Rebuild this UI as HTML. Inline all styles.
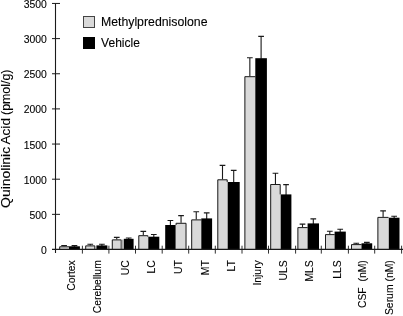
<!DOCTYPE html>
<html><head><meta charset="utf-8"><title>Quinolinic Acid</title>
<style>
html,body{margin:0;padding:0;background:#fff;}
body{width:403px;height:316px;overflow:hidden;}
svg{display:block;font-family:"Liberation Sans",sans-serif;}
text{stroke:#000;stroke-width:0.1px;}
</style></head><body>
<svg width="403" height="316" viewBox="0 0 403 316">
<rect width="403" height="316" fill="#fff"/>

<path d="M64.10 246.80V245.60M61.25 245.60H66.95" stroke="#1a1a1a" stroke-width="1.1" fill="none"/>
<path d="M74.45 246.80V245.60M71.60 245.60H77.30" stroke="#1a1a1a" stroke-width="1.1" fill="none"/>
<rect x="59.20" y="246.30" width="9.80" height="3.20" fill="#d9d9d9"/>
<path d="M59.70 249.5V246.80H69.00" fill="none" stroke="#1c1c1c" stroke-width="1"/>
<rect x="69.00" y="246.30" width="10.90" height="3.20" fill="#000"/>
<path d="M90.25 245.90V244.30M87.40 244.30H93.10" stroke="#1a1a1a" stroke-width="1.1" fill="none"/>
<path d="M101.90 245.90V244.30M99.05 244.30H104.75" stroke="#1a1a1a" stroke-width="1.1" fill="none"/>
<rect x="85.20" y="245.40" width="10.10" height="4.10" fill="#d9d9d9"/>
<path d="M85.70 249.5V245.90H94.80V249.5" fill="none" stroke="#1c1c1c" stroke-width="1"/>
<rect x="96.40" y="245.40" width="11.00" height="4.10" fill="#000"/>
<path d="M116.75 239.90V237.40M113.90 237.40H119.60" stroke="#1a1a1a" stroke-width="1.1" fill="none"/>
<path d="M128.70 239.30V238.00M125.85 238.00H131.55" stroke="#1a1a1a" stroke-width="1.1" fill="none"/>
<rect x="111.80" y="239.40" width="9.90" height="10.10" fill="#d9d9d9"/>
<path d="M112.30 249.5V239.90H121.20V249.5" fill="none" stroke="#1c1c1c" stroke-width="1"/>
<rect x="123.80" y="238.80" width="9.80" height="10.70" fill="#000"/>
<path d="M143.30 235.70V231.40M140.45 231.40H146.15" stroke="#1a1a1a" stroke-width="1.1" fill="none"/>
<path d="M153.80 237.20V234.50M150.95 234.50H156.65" stroke="#1a1a1a" stroke-width="1.1" fill="none"/>
<rect x="138.30" y="235.20" width="10.00" height="14.30" fill="#d9d9d9"/>
<path d="M138.80 249.5V235.70H147.80V236.70" fill="none" stroke="#1c1c1c" stroke-width="1"/>
<rect x="148.30" y="236.70" width="11.00" height="12.80" fill="#000"/>
<path d="M170.40 225.50V220.50M167.55 220.50H173.25" stroke="#1a1a1a" stroke-width="1.1" fill="none"/>
<path d="M181.05 223.30V215.60M178.20 215.60H183.90" stroke="#1a1a1a" stroke-width="1.1" fill="none"/>
<rect x="175.60" y="222.80" width="10.90" height="26.70" fill="#d9d9d9"/>
<path d="M176.10 225.00V223.30H186.00V249.5" fill="none" stroke="#1c1c1c" stroke-width="1"/>
<rect x="165.20" y="225.00" width="10.40" height="24.50" fill="#000"/>
<path d="M196.25 219.90V211.80M193.40 211.80H199.10" stroke="#1a1a1a" stroke-width="1.1" fill="none"/>
<path d="M206.70 218.90V212.90M203.85 212.90H209.55" stroke="#1a1a1a" stroke-width="1.1" fill="none"/>
<rect x="191.20" y="219.40" width="10.10" height="30.10" fill="#d9d9d9"/>
<path d="M191.70 249.5V219.90H201.30" fill="none" stroke="#1c1c1c" stroke-width="1"/>
<rect x="201.30" y="218.40" width="10.80" height="31.10" fill="#000"/>
<path d="M222.50 179.80V165.40M219.65 165.40H225.35" stroke="#1a1a1a" stroke-width="1.1" fill="none"/>
<path d="M233.70 182.50V170.40M230.85 170.40H236.55" stroke="#1a1a1a" stroke-width="1.1" fill="none"/>
<rect x="217.30" y="179.30" width="10.40" height="70.20" fill="#d9d9d9"/>
<path d="M217.80 249.5V179.80H227.20V182.00" fill="none" stroke="#1c1c1c" stroke-width="1"/>
<rect x="227.70" y="182.00" width="12.00" height="67.50" fill="#000"/>
<path d="M249.85 76.70V57.80M247.00 57.80H252.70" stroke="#1a1a1a" stroke-width="1.1" fill="none"/>
<path d="M261.10 58.70V36.40M258.25 36.40H263.95" stroke="#1a1a1a" stroke-width="1.1" fill="none"/>
<rect x="244.40" y="76.20" width="10.90" height="173.30" fill="#d9d9d9"/>
<path d="M244.90 249.5V76.70H255.30" fill="none" stroke="#1c1c1c" stroke-width="1"/>
<rect x="255.30" y="58.20" width="11.60" height="191.30" fill="#000"/>
<path d="M275.45 184.50V173.20M272.60 173.20H278.30" stroke="#1a1a1a" stroke-width="1.1" fill="none"/>
<path d="M286.05 194.90V184.60M283.20 184.60H288.90" stroke="#1a1a1a" stroke-width="1.1" fill="none"/>
<rect x="270.20" y="184.00" width="10.50" height="65.50" fill="#d9d9d9"/>
<path d="M270.70 249.5V184.50H280.20V194.40" fill="none" stroke="#1c1c1c" stroke-width="1"/>
<rect x="280.70" y="194.40" width="10.70" height="55.10" fill="#000"/>
<path d="M302.50 227.60V224.10M299.65 224.10H305.35" stroke="#1a1a1a" stroke-width="1.1" fill="none"/>
<path d="M313.30 223.90V218.90M310.45 218.90H316.15" stroke="#1a1a1a" stroke-width="1.1" fill="none"/>
<rect x="297.40" y="227.10" width="10.20" height="22.40" fill="#d9d9d9"/>
<path d="M297.90 249.5V227.60H307.60" fill="none" stroke="#1c1c1c" stroke-width="1"/>
<rect x="307.60" y="223.40" width="11.40" height="26.10" fill="#000"/>
<path d="M329.80 234.60V231.30M326.95 231.30H332.65" stroke="#1a1a1a" stroke-width="1.1" fill="none"/>
<path d="M340.20 232.10V229.30M337.35 229.30H343.05" stroke="#1a1a1a" stroke-width="1.1" fill="none"/>
<rect x="325.00" y="234.10" width="9.60" height="15.40" fill="#d9d9d9"/>
<path d="M325.50 249.5V234.60H334.60" fill="none" stroke="#1c1c1c" stroke-width="1"/>
<rect x="334.60" y="231.60" width="11.20" height="17.90" fill="#000"/>
<path d="M356.25 244.60V243.20M353.40 243.20H359.10" stroke="#1a1a1a" stroke-width="1.1" fill="none"/>
<path d="M366.85 243.80V242.40M364.00 242.40H369.70" stroke="#1a1a1a" stroke-width="1.1" fill="none"/>
<rect x="351.00" y="244.10" width="10.50" height="5.40" fill="#d9d9d9"/>
<path d="M351.50 249.5V244.60H361.50" fill="none" stroke="#1c1c1c" stroke-width="1"/>
<rect x="361.50" y="243.30" width="10.70" height="6.20" fill="#000"/>
<path d="M383.10 217.40V210.90M380.25 210.90H385.95" stroke="#1a1a1a" stroke-width="1.1" fill="none"/>
<path d="M394.15 218.20V216.20M391.30 216.20H397.00" stroke="#1a1a1a" stroke-width="1.1" fill="none"/>
<rect x="377.40" y="216.90" width="11.40" height="32.60" fill="#d9d9d9"/>
<path d="M377.90 249.5V217.40H388.30V217.70" fill="none" stroke="#1c1c1c" stroke-width="1"/>
<rect x="388.80" y="217.70" width="10.70" height="31.80" fill="#000"/>
<rect x="121.7" y="239.6" width="2.2" height="9.9" fill="#b0b0b0"/>
<path d="M55.5 3.4V253" stroke="#1a1a1a" stroke-width="1.1" fill="none"/>
<path d="M52 249.4H403" stroke="#1a1a1a" stroke-width="1.4" fill="none"/>
<path d="M52 249.50H60" stroke="#1a1a1a" stroke-width="1" fill="none"/>
<text x="46.9" y="253.95" font-size="10.4" text-anchor="end" fill="#000">0</text>
<path d="M52 214.35H60" stroke="#1a1a1a" stroke-width="1" fill="none"/>
<text x="46.9" y="218.80" font-size="10.4" text-anchor="end" fill="#000">500</text>
<path d="M52 179.20H60" stroke="#1a1a1a" stroke-width="1" fill="none"/>
<text x="46.9" y="183.65" font-size="10.4" text-anchor="end" fill="#000">1000</text>
<path d="M52 144.05H60" stroke="#1a1a1a" stroke-width="1" fill="none"/>
<text x="46.9" y="148.50" font-size="10.4" text-anchor="end" fill="#000">1500</text>
<path d="M52 108.90H60" stroke="#1a1a1a" stroke-width="1" fill="none"/>
<text x="46.9" y="113.35" font-size="10.4" text-anchor="end" fill="#000">2000</text>
<path d="M52 73.75H60" stroke="#1a1a1a" stroke-width="1" fill="none"/>
<text x="46.9" y="78.20" font-size="10.4" text-anchor="end" fill="#000">2500</text>
<path d="M52 38.60H60" stroke="#1a1a1a" stroke-width="1" fill="none"/>
<text x="46.9" y="43.05" font-size="10.4" text-anchor="end" fill="#000">3000</text>
<path d="M52 3.45H60" stroke="#1a1a1a" stroke-width="1" fill="none"/>
<text x="46.9" y="7.90" font-size="10.4" text-anchor="end" fill="#000">3500</text>
<path d="M82.4 245.7V253.6" stroke="#1a1a1a" stroke-width="0.9" fill="none"/>
<path d="M108.9 245.7V253.6" stroke="#1a1a1a" stroke-width="0.9" fill="none"/>
<path d="M135.5 245.7V253.6" stroke="#1a1a1a" stroke-width="0.9" fill="none"/>
<path d="M162.2 245.7V253.6" stroke="#1a1a1a" stroke-width="0.9" fill="none"/>
<path d="M188.7 245.7V253.6" stroke="#1a1a1a" stroke-width="0.9" fill="none"/>
<path d="M215.3 245.7V253.6" stroke="#1a1a1a" stroke-width="0.9" fill="none"/>
<path d="M242.0 245.7V253.6" stroke="#1a1a1a" stroke-width="0.9" fill="none"/>
<path d="M268.5 245.7V253.6" stroke="#1a1a1a" stroke-width="0.9" fill="none"/>
<path d="M295.6 245.7V253.6" stroke="#1a1a1a" stroke-width="0.9" fill="none"/>
<path d="M321.3 245.7V253.6" stroke="#1a1a1a" stroke-width="0.9" fill="none"/>
<path d="M348.4 245.7V253.6" stroke="#1a1a1a" stroke-width="0.9" fill="none"/>
<path d="M374.7 245.7V253.6" stroke="#1a1a1a" stroke-width="0.9" fill="none"/>
<path d="M401.6 245.7V253.6" stroke="#1a1a1a" stroke-width="0.9" fill="none"/>
<text transform="translate(75.30 260.2) rotate(-90)" font-size="10.4" text-anchor="end" fill="#000">Cortex</text>
<text transform="translate(101.20 260.2) rotate(-90)" font-size="10.4" text-anchor="end" fill="#000">Cerebellum</text>
<text transform="translate(128.80 260.2) rotate(-90)" font-size="10.4" text-anchor="end" fill="#000">UC</text>
<text transform="translate(155.30 260.2) rotate(-90)" font-size="10.4" text-anchor="end" fill="#000">LC</text>
<text transform="translate(181.90 260.2) rotate(-90)" font-size="10.4" text-anchor="end" fill="#000">UT</text>
<text transform="translate(208.60 260.2) rotate(-90)" font-size="10.4" text-anchor="end" fill="#000">MT</text>
<text transform="translate(235.00 260.2) rotate(-90)" font-size="10.4" text-anchor="end" fill="#000">LT</text>
<text transform="translate(261.20 260.2) rotate(-90)" font-size="10.4" text-anchor="end" fill="#000">Injury</text>
<text transform="translate(287.30 260.2) rotate(-90)" font-size="10.4" text-anchor="end" fill="#000">ULS</text>
<text transform="translate(313.40 260.2) rotate(-90)" font-size="10.4" text-anchor="end" fill="#000">MLS</text>
<text transform="translate(341.20 260.2) rotate(-90)" font-size="10.4" text-anchor="end" fill="#000">LLS</text>
<text transform="translate(366.00 260.2) rotate(-90)" font-size="10.4" text-anchor="end" fill="#000">CSF  (nM)</text>
<text transform="translate(392.90 260.2) rotate(-90)" font-size="10.4" text-anchor="end" fill="#000">Serum (nM)</text>
<text transform="translate(10.3 207.9) rotate(-90)" font-size="12.4" textLength="61.0" lengthAdjust="spacingAndGlyphs" fill="#000">Quinolinic</text>
<text transform="translate(10.3 144.4) rotate(-90)" font-size="12.4" textLength="26.3" lengthAdjust="spacingAndGlyphs" fill="#000">Acid</text>
<text transform="translate(10.3 115.0) rotate(-90)" font-size="12.4" textLength="45.5" lengthAdjust="spacingAndGlyphs" fill="#000">(pmol/g)</text>
<rect x="83.5" y="16.5" width="11" height="11" fill="#d9d9d9" stroke="#444" stroke-width="1"/>
<rect x="83" y="37" width="12" height="12" fill="#000"/>
<text x="100.9" y="26.2" font-size="12.3" fill="#000">Methylprednisolone</text>
<text x="101.1" y="46.8" font-size="12.05" fill="#000">Vehicle</text>
</svg></body></html>
